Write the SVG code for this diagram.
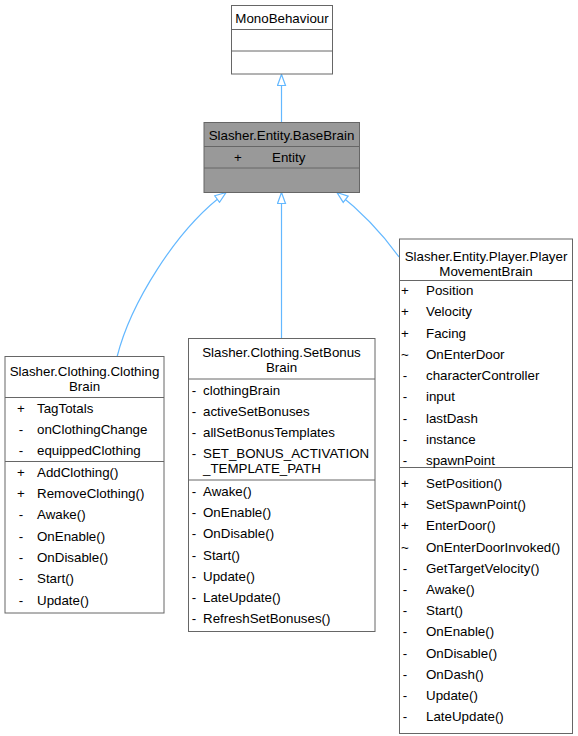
<svg xmlns="http://www.w3.org/2000/svg" width="578" height="736" viewBox="0 0 578 736">
<style>
  .box{fill:#ffffff;stroke:#666666;stroke-width:1}
  .grey{fill:#999999;stroke:#666666;stroke-width:1}
  .div{stroke:#666666;stroke-width:1}
  text{font-family:"Liberation Sans",Arial,sans-serif;font-size:13.33px;fill:#000000}
  .c{text-anchor:middle}
  .edge{fill:none;stroke:#63b8ff;stroke-width:1.2}
</style>
<defs>
  <marker id="inh" markerUnits="userSpaceOnUse" markerWidth="13" markerHeight="10" viewBox="-1 -1 13 10" refX="11" refY="4" orient="auto">
    <path d="M0,0 L11,4 L0,8 Z" fill="#ffffff" stroke="#63b8ff" stroke-width="1.2"/>
  </marker>
</defs>
<g id="edges">
  <path class="edge" d="M281.5,122.5 L281.5,74.5" marker-end="url(#inh)"/>
  <path class="edge" d="M281.5,338 L281.5,192.5" marker-end="url(#inh)"/>
  <path class="edge" d="M117,357 C130,305 175,230 226,192.5" marker-end="url(#inh)"/>
  <path class="edge" d="M399,257 C384,236 362,212 337,192.5" marker-end="url(#inh)"/>
</g>
<g id="MonoBehaviour">
  <rect class="box" x="231.5" y="5.5" width="101" height="68.5"/>
  <line class="div" x1="231.5" y1="29.5" x2="332.5" y2="29.5"/>
  <line class="div" x1="231.5" y1="51" x2="332.5" y2="51"/>
  <text class="c" x="282" y="22.5">MonoBehaviour</text>
</g>
<g id="BaseBrain">
  <rect class="grey" x="204" y="122.5" width="155.5" height="70"/>
  <line class="div" x1="204" y1="146.5" x2="359.5" y2="146.5"/>
  <line class="div" x1="204" y1="168" x2="359.5" y2="168"/>
  <text class="c" x="281.5" y="140">Slasher.Entity.BaseBrain</text>
  <text class="c" x="238" y="161.5">+</text>
  <text x="272" y="161.5">Entity</text>
</g>
<g id="ClothingBrain">
  <rect class="box" x="5" y="356.5" width="159" height="256.5"/>
  <line class="div" x1="5" y1="397.5" x2="164" y2="397.5"/>
  <line class="div" x1="5" y1="461.5" x2="164" y2="461.5"/>
  <text class="c" x="84.5" y="375.5">Slasher.Clothing.Clothing</text>
  <text class="c" x="84.5" y="390.5">Brain</text>
  <text class="c" x="21" y="412.5">+</text><text x="37" y="412.5">TagTotals</text>
  <text class="c" x="21" y="434">-</text><text x="37" y="434">onClothingChange</text>
  <text class="c" x="21" y="455">-</text><text x="37" y="455">equippedClothing</text>
  <text class="c" x="21" y="476.5">+</text><text x="37" y="476.5">AddClothing()</text>
  <text class="c" x="21" y="498">+</text><text x="37" y="498">RemoveClothing()</text>
  <text class="c" x="21" y="519">-</text><text x="37" y="519">Awake()</text>
  <text class="c" x="21" y="540.5">-</text><text x="37" y="540.5">OnEnable()</text>
  <text class="c" x="21" y="562">-</text><text x="37" y="562">OnDisable()</text>
  <text class="c" x="21" y="583">-</text><text x="37" y="583">Start()</text>
  <text class="c" x="21" y="604.5">-</text><text x="37" y="604.5">Update()</text>
</g>
<g id="SetBonusBrain">
  <rect class="box" x="188.5" y="338.5" width="186.5" height="293"/>
  <line class="div" x1="188.5" y1="379" x2="375" y2="379"/>
  <line class="div" x1="188.5" y1="480" x2="375" y2="480"/>
  <text class="c" x="281.5" y="357">Slasher.Clothing.SetBonus</text>
  <text class="c" x="281.5" y="372">Brain</text>
  <text class="c" x="194" y="394.5">-</text><text x="203" y="394.5">clothingBrain</text>
  <text class="c" x="194" y="415.5">-</text><text x="203" y="415.5">activeSetBonuses</text>
  <text class="c" x="194" y="437">-</text><text x="203" y="437">allSetBonusTemplates</text>
  <text class="c" x="194" y="458">-</text><text x="203" y="458">SET_BONUS_ACTIVATION</text>
  <text x="203" y="473">_TEMPLATE_PATH</text>
  <text class="c" x="194" y="496">-</text><text x="203" y="496">Awake()</text>
  <text class="c" x="194" y="517">-</text><text x="203" y="517">OnEnable()</text>
  <text class="c" x="194" y="538">-</text><text x="203" y="538">OnDisable()</text>
  <text class="c" x="194" y="559.5">-</text><text x="203" y="559.5">Start()</text>
  <text class="c" x="194" y="580.5">-</text><text x="203" y="580.5">Update()</text>
  <text class="c" x="194" y="601.5">-</text><text x="203" y="601.5">LateUpdate()</text>
  <text class="c" x="194" y="623">-</text><text x="203" y="623">RefreshSetBonuses()</text>
</g>
<g id="PlayerMovementBrain">
  <rect class="box" x="399.5" y="239" width="173" height="494.5"/>
  <line class="div" x1="399.5" y1="280.5" x2="572.5" y2="280.5"/>
  <line class="div" x1="399.5" y1="467.5" x2="572.5" y2="467.5"/>
  <text class="c" x="486" y="260.5">Slasher.Entity.Player.Player</text>
  <text class="c" x="486" y="275.5">MovementBrain</text>
  <text class="c" x="405" y="295">+</text><text x="426" y="295">Position</text>
  <text class="c" x="405" y="316">+</text><text x="426" y="316">Velocity</text>
  <text class="c" x="405" y="337.5">+</text><text x="426" y="337.5">Facing</text>
  <text class="c" x="405" y="358.5">~</text><text x="426" y="358.5">OnEnterDoor</text>
  <text class="c" x="405" y="380">-</text><text x="426" y="380">characterController</text>
  <text class="c" x="405" y="401">-</text><text x="426" y="401">input</text>
  <text class="c" x="405" y="422.5">-</text><text x="426" y="422.5">lastDash</text>
  <text class="c" x="405" y="443.5">-</text><text x="426" y="443.5">instance</text>
  <text class="c" x="405" y="464.5">-</text><text x="426" y="464.5">spawnPoint</text>
  <text class="c" x="405" y="488">+</text><text x="426" y="488">SetPosition()</text>
  <text class="c" x="405" y="509">+</text><text x="426" y="509">SetSpawnPoint()</text>
  <text class="c" x="405" y="530">+</text><text x="426" y="530">EnterDoor()</text>
  <text class="c" x="405" y="551.5">~</text><text x="426" y="551.5">OnEnterDoorInvoked()</text>
  <text class="c" x="405" y="572.5">-</text><text x="426" y="572.5">GetTargetVelocity()</text>
  <text class="c" x="405" y="593.5">-</text><text x="426" y="593.5">Awake()</text>
  <text class="c" x="405" y="615">-</text><text x="426" y="615">Start()</text>
  <text class="c" x="405" y="636">-</text><text x="426" y="636">OnEnable()</text>
  <text class="c" x="405" y="657.5">-</text><text x="426" y="657.5">OnDisable()</text>
  <text class="c" x="405" y="678.5">-</text><text x="426" y="678.5">OnDash()</text>
  <text class="c" x="405" y="700">-</text><text x="426" y="700">Update()</text>
  <text class="c" x="405" y="721">-</text><text x="426" y="721">LateUpdate()</text>
</g>
</svg>
